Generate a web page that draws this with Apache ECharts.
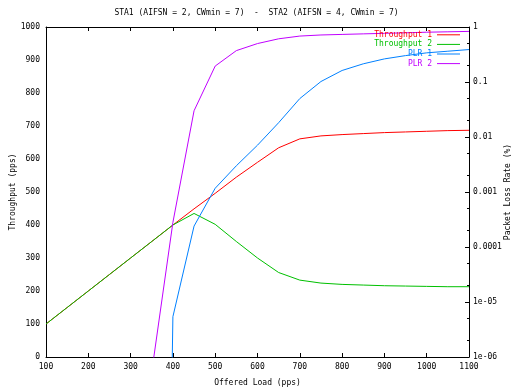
<!DOCTYPE html>
<html>
<head>
<meta charset="utf-8">
<script src="https://cdn.jsdelivr.net/npm/echarts@6/dist/echarts.min.js"></script>
<style>
html,body{margin:0;padding:0;background:#fff;}
#chart{width:513px;height:392px;}
</style>
</head>
<body>
<div id="chart"></div>
<script>
// ---- data ----
const titleText = 'STA1 (AIFSN = 2, CWmin = 7)  -  STA2 (AIFSN = 4, CWmin = 7)';
const seriesNames = ['Throughput 1', 'Throughput 2', 'PLR 1', 'PLR 2'];
const loads = [100,150,200,250,300,350,400,450,500,550,600,650,700,750,800,850,900,950,1000,1050,1100];
const throughput1 = [100,150,200,250,300,350,400,449,496,545,590,634,661,670,674,677,680,682,684,686,687];
const throughput2 = [100,150,200,250,300,350,400,435,402,350,300,256,233,224,220,218,216,215,214,213,213];
// PLR values (log axis); null = no point, 1e-30 ~ zero loss
const plr1 = [null,null,null,null,null,1e-30,5.4e-6,2.4e-4,1.17e-3,3.0e-3,7.1e-3,0.0182,0.050,0.102,0.162,0.214,0.263,0.302,0.339,0.363,0.389];
const plr2 = [null,null,null,null,null,5.4e-7,2.8e-4,0.030,0.195,0.372,0.50,0.61,0.684,0.716,0.733,0.75,0.767,0.785,0.804,0.818,0.832];
const rightTickLabels = ['1e-06','1e-05','0.0001','0.001','0.01','0.1','1'];
const rightMinorTicks = [2e-6,5e-6,2e-5,5e-5,2e-4,5e-4,2e-3,5e-3,2e-2,5e-2,0.2,0.5];
const colors = ['#ff0000', '#00c000', '#0080ff', '#c000ff'];

const FONT = 'DejaVu Sans Mono';
const FS = 8;

function pairs(arr) { return loads.map((x, i) => [x, arr[i]]); }

const chart = echarts.init(document.getElementById('chart'), null, {renderer: 'canvas'});
const lineSeries = (name, data, color, yi) => ({
  name, type: 'line', data: pairs(data), xAxisIndex: 0, yAxisIndex: yi,
  showSymbol: false, symbol: 'none', clip: true, connectNulls: false,
  lineStyle: {color, width: 1}, itemStyle: {color},
  emphasis: {disabled: true}, silent: true
});

chart.setOption({
  animation: false,
  backgroundColor: '#fff',
  textStyle: {fontFamily: FONT, fontSize: FS, color: '#000'},
  title: {
    text: titleText, left: 'center', top: 9, padding: 0,
    textStyle: {fontFamily: FONT, fontSize: FS, fontWeight: 'normal', color: '#000'}
  },
  legend: {
    orient: 'vertical', right: 53, top: 30, align: 'right', padding: 0,
    itemGap: 0, itemWidth: 23, itemHeight: 1, icon: 'rect',
    selectedMode: false,
    data: seriesNames.map((n, i) => ({name: n, textStyle: {color: colors[i]}})),
    textStyle: {fontFamily: FONT, fontSize: FS, lineHeight: 9.6, padding: 0}
  },
  grid: {left: 46, right: 44, top: 27, bottom: 35, containLabel: false, outerBoundsMode: 'none'},
  xAxis: [{
    type: 'value', min: 100, max: 1100, interval: 100, position: 'bottom',
    name: 'Offered Load (pps)', nameLocation: 'middle', nameGap: 22, nameMoveOverlap: false,
    nameTextStyle: {fontFamily: FONT, fontSize: FS, color: '#000'},
    axisLine: {show: true, lineStyle: {color: '#000', width: 1}},
    axisTick: {show: true, inside: true, length: 4, lineStyle: {color: '#000'}},
    axisLabel: {fontFamily: FONT, fontSize: FS, color: '#000', margin: 6, formatter: v => String(v)},
    splitLine: {show: false}
  }, {
    type: 'value', min: 100, max: 1100, interval: 100, position: 'top',
    axisLine: {show: true, lineStyle: {color: '#000', width: 1}},
    axisTick: {show: true, inside: true, length: 4, lineStyle: {color: '#000'}},
    axisLabel: {show: false}, splitLine: {show: false}
  }],
  yAxis: [{
    type: 'value', min: 0, max: 1000, interval: 100, position: 'left',
    name: 'Throughput (pps)', nameLocation: 'middle', nameGap: 29, nameRotate: 90, nameMoveOverlap: false,
    nameTextStyle: {fontFamily: FONT, fontSize: FS, color: '#000'},
    axisLine: {show: true, lineStyle: {color: '#000', width: 1}},
    axisTick: {show: false},
    axisLabel: {fontFamily: FONT, fontSize: FS, color: '#000', margin: 6, formatter: v => String(v)},
    splitLine: {show: false}
  }, {
    type: 'log', logBase: 10, min: 1e-6, max: 1, interval: 1, position: 'right',
    name: 'Packet Loss Rate (%)', nameLocation: 'middle', nameGap: 35, nameRotate: 90, nameMoveOverlap: false,
    nameTextStyle: {fontFamily: FONT, fontSize: FS, color: '#000'},
    axisLine: {show: true, lineStyle: {color: '#000', width: 1}},
    axisTick: {show: true, inside: true, length: 4, lineStyle: {color: '#000'}},
    axisLabel: {
      fontFamily: FONT, fontSize: FS, color: '#000', margin: 4,
      formatter: v => {
        const e = Math.round(Math.log10(v));
        return rightTickLabels[e + 6] !== undefined ? rightTickLabels[e + 6] : '';
      }
    },
    splitLine: {show: false}
  }, {
    type: 'log', logBase: 10, min: 1e-6, max: 1, position: 'right',
    axisLine: {show: false},
    axisTick: {show: true, inside: true, length: 2, customValues: rightMinorTicks, lineStyle: {color: '#000'}},
    axisLabel: {show: false},
    splitLine: {show: false}
  }],
  series: [
    lineSeries(seriesNames[0], throughput1, colors[0], 0),
    lineSeries(seriesNames[1], throughput2, colors[1], 0),
    lineSeries(seriesNames[2], plr1, colors[2], 1),
    lineSeries(seriesNames[3], plr2, colors[3], 1)
  ]
});
</script>
</body>
</html>
